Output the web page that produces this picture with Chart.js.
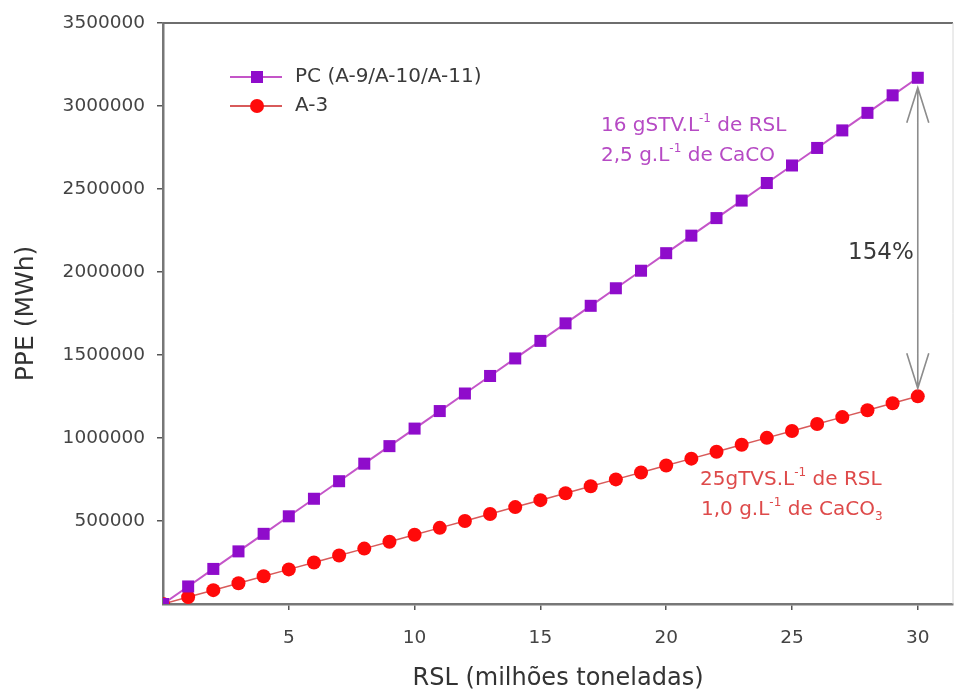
<!DOCTYPE html>
<html>
<head>
<meta charset="utf-8">
<script src="https://cdn.jsdelivr.net/npm/chart.js@4.4.1/dist/chart.umd.min.js"></script>
<style>
  body { margin: 0; background: #fff; }
  canvas { display: block; }
</style>
</head>
<body>
<canvas id="ppe" width="955" height="693"></canvas>
<script>
// RSL (million tonnes)
const rsl = [0, 1, 2, 3, 4, 5, 6, 7, 8, 9, 10, 11, 12, 13, 14, 15, 16, 17, 18, 19, 20,
             21, 22, 23, 24, 25, 26, 27, 28, 29, 30];

// PPE (MWh)
const ppePC = [0, 105700, 211300, 317000, 422700, 528300, 634000, 739700, 845300, 951000,
               1056700, 1162300, 1268000, 1373700, 1479300, 1585000, 1690700, 1796300, 1902000,
               2007700, 2113300, 2219000, 2324700, 2430300, 2536000, 2641700, 2747300, 2853000,
               2958700, 3064300, 3170000];
const ppeA3 = [0, 41700, 83400, 125100, 166800, 208500, 250200, 291900, 333600, 375300,
               417000, 458700, 500400, 542100, 583800, 625500, 667200, 708900, 750600, 792300,
               834000, 875700, 917400, 959100, 1000800, 1042500, 1084200, 1125900, 1167600,
               1209300, 1251000];

const seriesNames = ["PC (A-9/A-10/A-11)", "A-3"];
const xTicks = [5, 10, 15, 20, 25, 30];
const yTicks = [500000, 1000000, 1500000, 2000000, 2500000, 3000000, 3500000];
const gainLabel = "154%";

const FONT = "'DejaVu Sans', sans-serif";
const PURPLE_MK = "#8f0ccb";
const PURPLE_LN = "#c455c8";
const RED_MK = "#ff0a0a";
const RED_LN = "#d85a5a";

// text with super/subscripts: parts = [[text, 'n'|'sup'|'sub'], ...]
function richText(ctx, parts, x, y, size, color) {
  ctx.save();
  ctx.fillStyle = color;
  ctx.textBaseline = "middle";
  ctx.textAlign = "left";
  let cx = x;
  parts.forEach(([t, kind]) => {
    if (kind === "n") {
      ctx.font = size + "px " + FONT;
      ctx.fillText(t, cx, y);
    } else {
      const s = Math.round(size * 0.6);
      ctx.font = s + "px " + FONT;
      ctx.fillText(t, cx, kind === "sup" ? y - size * 0.38 : y + size * 0.35);
    }
    cx += ctx.measureText(t).width;
  });
  ctx.restore();
}

const decorations = {
  id: "decorations",
  afterDraw(chart) {
    const { ctx, chartArea: a, scales: { x, y } } = chart;
    ctx.save();
    // frame top / right
    ctx.strokeStyle = "#6e6e6e";
    ctx.lineWidth = 2;
    ctx.beginPath();
    ctx.moveTo(a.left, a.top);
    ctx.lineTo(a.right, a.top);
    ctx.stroke();
    ctx.strokeStyle = "#d8d8d8";
    ctx.lineWidth = 1;
    ctx.beginPath();
    ctx.moveTo(a.right, a.top);
    ctx.lineTo(a.right, a.bottom);
    ctx.stroke();

    // legend
    const rows = [
      { name: seriesNames[0], ln: PURPLE_LN, mk: PURPLE_MK, shape: "rect", y: 77 },
      { name: seriesNames[1], ln: RED_LN, mk: RED_MK, shape: "circle", y: 106 }
    ];
    rows.forEach(r => {
      ctx.strokeStyle = r.ln;
      ctx.lineWidth = 2;
      ctx.beginPath();
      ctx.moveTo(230, r.y);
      ctx.lineTo(282, r.y);
      ctx.stroke();
      ctx.fillStyle = r.mk;
      ctx.beginPath();
      if (r.shape === "rect") ctx.rect(251, r.y - 6, 12, 12);
      else ctx.arc(257, r.y, 7, 0, Math.PI * 2);
      ctx.fill();
      ctx.fillStyle = "#3a3a3a";
      ctx.font = "20px " + FONT;
      ctx.textBaseline = "middle";
      ctx.fillText(r.name, 295, r.y);
    });

    // condition labels
    richText(ctx, [["16 gSTV.L", "n"], ["-1", "sup"], [" de RSL", "n"]], 601, 126, 20, "#b64ac4");
    richText(ctx, [["2,5 g.L", "n"], ["-1", "sup"], [" de CaCO", "n"]], 601, 156, 20, "#b64ac4");
    richText(ctx, [["25gTVS.L", "n"], ["-1", "sup"], [" de RSL", "n"]], 700, 480, 20, "#de4a4a");
    richText(ctx, [["1,0 g.L", "n"], ["-1", "sup"], [" de CaCO", "n"], ["3", "sub"]], 701, 510, 20, "#de4a4a");

    // double arrow between the two series at x = 30
    const ax = x.getPixelForValue(rsl[30]);
    const yTop = y.getPixelForValue(ppePC[30]) + 10;
    const yBot = y.getPixelForValue(ppeA3[30]) - 8;
    ctx.strokeStyle = "#8c8c8c";
    ctx.lineWidth = 1.6;
    ctx.beginPath();
    ctx.moveTo(ax, yTop);
    ctx.lineTo(ax, yBot);
    ctx.moveTo(ax - 11, yTop + 35);
    ctx.lineTo(ax, yTop);
    ctx.lineTo(ax + 11, yTop + 35);
    ctx.moveTo(ax - 11, yBot - 35);
    ctx.lineTo(ax, yBot);
    ctx.lineTo(ax + 11, yBot - 35);
    ctx.stroke();

    ctx.fillStyle = "#3a3a3a";
    ctx.font = "23px " + FONT;
    ctx.textAlign = "right";
    ctx.textBaseline = "middle";
    ctx.fillText(gainLabel, ax - 4, 253);
    ctx.restore();
  }
};

new Chart(document.getElementById("ppe"), {
  type: "line",
  data: {
    datasets: [{
      label: seriesNames[0],
      data: rsl.map((v, i) => ({ x: v, y: ppePC[i] })),
      borderColor: PURPLE_LN,
      borderWidth: 2,
      pointStyle: "rect",
      pointRadius: 8.5,
      pointBackgroundColor: PURPLE_MK,
      pointBorderWidth: 0
    }, {
      label: seriesNames[1],
      data: rsl.map((v, i) => ({ x: v, y: ppeA3[i] })),
      borderColor: RED_LN,
      borderWidth: 1.5,
      pointStyle: "circle",
      pointRadius: 7,
      pointBackgroundColor: RED_MK,
      pointBorderWidth: 0
    }]
  },
  options: {
    responsive: false,
    animation: false,
    layout: { autoPadding: false, padding: { top: 23, right: 2, left: 0, bottom: 0 } },
    plugins: {
      legend: { display: false },
      tooltip: { enabled: false }
    },
    scales: {
      x: {
        type: "linear",
        min: 0,
        max: 31.4,
        afterFit: s => { s.height = 89; s.paddingLeft = 0; s.paddingRight = 0; },
        afterBuildTicks: s => { s.ticks = xTicks.map(v => ({ value: v })); },
        grid: { drawOnChartArea: false, drawTicks: true, tickLength: 6, color: "#555", lineWidth: 1.5 },
        border: { display: true, color: "#777", width: 2.5 },
        ticks: { color: "#444", padding: 17, font: { family: FONT, size: 18.5 } },
        title: {
          display: true,
          text: "RSL (milhões toneladas)",
          color: "#333",
          font: { family: FONT, size: 24 },
          padding: { top: 0, bottom: 0 }
        }
      },
      y: {
        min: 0,
        max: 3500000,
        afterFit: s => { s.width = 163; s.paddingTop = 0; s.paddingBottom = 0; },
        afterBuildTicks: s => { s.ticks = yTicks.map(v => ({ value: v })); },
        grid: { drawOnChartArea: false, drawTicks: true, tickLength: 6, color: "#555", lineWidth: 1.5 },
        border: { display: true, color: "#777", width: 2.5 },
        ticks: { color: "#444", padding: 12, font: { family: FONT, size: 18.5 }, callback: v => String(v) },
        title: {
          display: true,
          text: "PPE (MWh)",
          color: "#333",
          font: { family: FONT, size: 25 },
          padding: { top: 11, bottom: 0 }
        }
      }
    }
  },
  plugins: [decorations]
});
</script>
</body>
</html>
